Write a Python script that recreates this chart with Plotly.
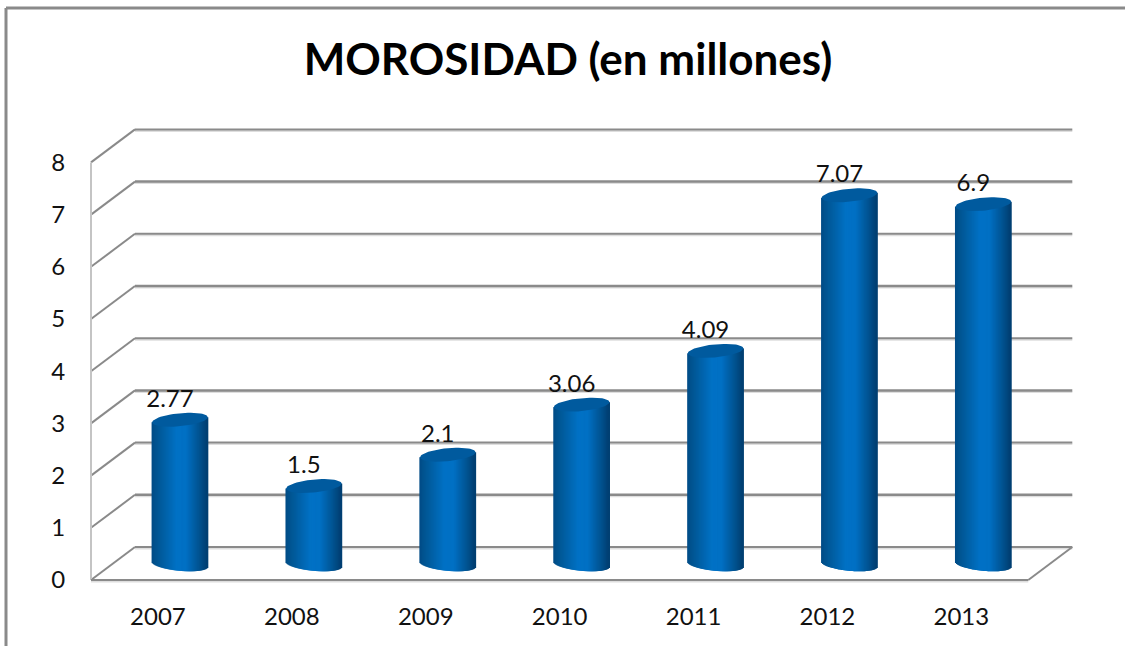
import numpy as np
import plotly.graph_objects as go

years = ["2007", "2008", "2009", "2010", "2011", "2012", "2013"]
morosidad = [2.77, 1.5, 2.1, 3.06, 4.09, 7.07, 6.9]
y_ticks = [0, 1, 2, 3, 4, 5, 6, 7, 8]

FONT = "Lato"
GRID = "#8a8a8a"
SHADOW = "#dedede"
TOP_CAP = "#005a9e"

# pixel scale of the fake 3D box
W, H = 1125, 646
X0, Y0 = 91, 580          # front-left floor corner
PX_CAT, PX_VAL = 133.9, 52.2
DEPTH_X = 44 / PX_CAT
DEPTH_Y = 33 / PX_VAL
L, R, T, B = 85, 1077, 124, 586

# cylinder geometry, in axis units
BAR_W = 0.415
TOP_LIFT = 0.30
BASE_LIFT = 0.30
TILT = 2.5 / PX_VAL
CAP = 6.5 / PX_VAL
N_STRIPS = 56


def shade(t):
    """Colour across the cylinder, t from 0 (left) to 1 (right)."""
    stops = [0.0, 0.12, 0.45, 0.62, 0.85, 1.0]
    g = [76, 88, 114, 112, 84, 62]
    b = [134, 150, 198, 196, 146, 112]
    return "rgb(0,%d,%d)" % (np.interp(t, stops, g), np.interp(t, stops, b))


centers = np.arange(len(years)) + 0.5 + DEPTH_X / 2
values = np.array(morosidad)
fig = go.Figure()

# cylinder bodies: thin vertical strips give the shading and the round base
for t in (np.arange(N_STRIPS) + 0.5) / N_STRIPS:
    u = 2 * t - 1
    base = BASE_LIFT - TILT * u - CAP * np.sqrt(1 - u * u)
    top = values + TOP_LIFT + TILT * u
    fig.add_trace(go.Bar(
        x=centers + u * BAR_W / 2,
        y=top - base,
        base=[base] * len(years),
        width=BAR_W / N_STRIPS * 2.2,
        marker=dict(color=shade(t), line_width=0),
        hoverinfo="skip",
        showlegend=False,
    ))

# top caps
ang = np.linspace(0, 2 * np.pi, 60)
cap_x, cap_y = [], []
for c, v in zip(centers, values):
    cap_x += list(c + np.cos(ang) * BAR_W / 2) + [None]
    cap_y += list(v + TOP_LIFT + TILT * np.cos(ang) + CAP * np.sin(ang)) + [None]
fig.add_trace(go.Scatter(
    x=cap_x, y=cap_y, mode="lines", fill="toself",
    fillcolor=TOP_CAP, line=dict(width=0),
    hoverinfo="skip", showlegend=False,
))

# value labels
fig.add_trace(go.Scatter(
    x=centers - 10 / PX_CAT,
    y=values + TOP_LIFT + 19 / PX_VAL,
    mode="text",
    text=[str(v) for v in morosidad],
    textposition="middle center",
    textfont=dict(family=FONT, size=24, color="#111111"),
    hoverinfo="skip",
    showlegend=False,
))


def line(x0, y0, x1, y1, color=GRID, width=2):
    fig.add_shape(type="line", x0=x0, y0=y0, x1=x1, y1=y1, layer="below",
                  line=dict(color=color, width=width))


n = len(years)
for k in y_ticks:
    line(DEPTH_X, k + DEPTH_Y - 1.5 / PX_VAL, n + DEPTH_X, k + DEPTH_Y - 1.5 / PX_VAL, SHADOW, 2)
    line(DEPTH_X, k + DEPTH_Y, n + DEPTH_X, k + DEPTH_Y, GRID, 2.5 if k % 2 else 2)
    line(0, k, DEPTH_X, k + DEPTH_Y, GRID, 2)
line(0, 0, 0, y_ticks[-1], "#c4c4c4", 2)
line(0, -1.5 / PX_VAL, n, -1.5 / PX_VAL, SHADOW, 2)
line(0, 0, n, 0, GRID, 2)
line(n, 0, n + DEPTH_X, DEPTH_Y, GRID, 2)

# outer chart frame
for x0, y0, x1, y1 in [(6, 8, W, 8), (6, 8, 6, H)]:
    fig.add_shape(type="line", xref="paper", yref="paper", layer="below",
                  x0=(x0 - L) / (R - L), x1=(x1 - L) / (R - L),
                  y0=(B - y0) / (B - T), y1=(B - y1) / (B - T),
                  line=dict(color=GRID, width=3))

fig.update_layout(
    width=W, height=H,
    margin=dict(l=L, r=W - R, t=T, b=H - B, pad=0),
    paper_bgcolor="white", plot_bgcolor="white",
    barmode="overlay",
    showlegend=False,
    title=dict(
        text="<b>MOROSIDAD (en millones)</b>",
        x=568 / W, xanchor="center", y=1 - 60 / H, yanchor="middle",
        font=dict(family=FONT, size=44, color="black"),
    ),
    xaxis=dict(
        range=[(L - X0) / PX_CAT, (R - X0) / PX_CAT],
        tickmode="array", tickvals=np.arange(n) + 0.5, ticktext=years,
        ticks="outside", ticklen=9, tickcolor="rgba(0,0,0,0)",
        tickfont=dict(family=FONT, size=24, color="#111111"),
        showgrid=False, zeroline=False, showline=False,
    ),
    yaxis=dict(
        range=[(Y0 - B) / PX_VAL, (Y0 - T) / PX_VAL],
        tickmode="array", tickvals=y_ticks,
        ticks="outside", ticklen=14, tickcolor="rgba(0,0,0,0)",
        tickfont=dict(family=FONT, size=24, color="#111111"),
        showgrid=False, zeroline=False, showline=False,
    ),
)

fig.write_html("out.html", config=dict(displayModeBar=False),
               post_script="document.body.style.margin='0';")
